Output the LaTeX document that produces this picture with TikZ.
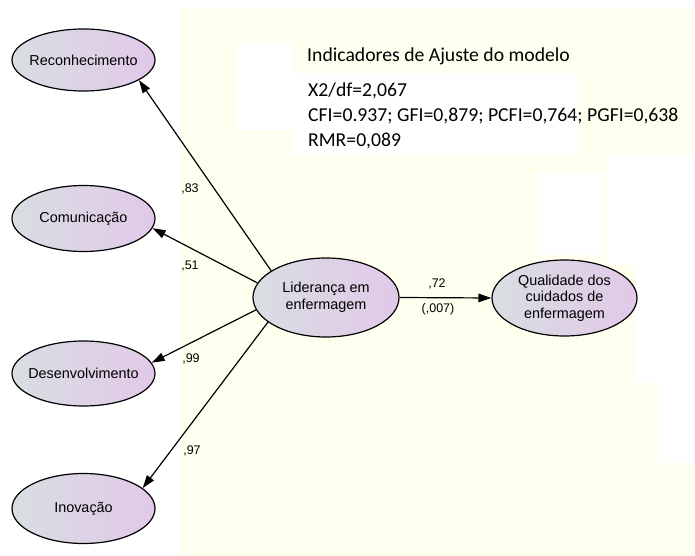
\documentclass[tikz,border=0pt]{standalone}
\usepackage{fontspec}
\setmainfont{Liberation Sans}
\newfontfamily\calfont{Carlito}
\usetikzlibrary{arrows.meta,shapes.geometric}
\definecolor{bgyellow}{HTML}{FFFFF0}
\definecolor{elleft}{HTML}{D8DEE2}
\definecolor{elright}{HTML}{E2C8E8}
\tikzset{
  latent/.style={ellipse, draw=black, line width=1.2pt, inner xsep=-30pt, inner ysep=0pt,
    left color=elleft, right color=elright, align=center,
    font=\fontsize{14.4}{16.5}\selectfont},
  path/.style={line width=1.2pt, -{Triangle[length=13pt,width=8.5pt]}},
  coef/.style={font=\fontsize{12.5}{14}\selectfont, inner sep=0pt},
  info/.style={font=\calfont\fontsize{19.7}{22}\selectfont, anchor=base west, inner sep=0pt}
}
\begin{document}
\begin{tikzpicture}[x=1pt,y=-1pt]
\useasboundingbox (0,0) rectangle (695,556);
\fill[white] (0,0) rectangle (695,556);
% background
\fill[bgyellow] (180,8) -- (693,8) -- (693,155) -- (608,155) -- (608,265) -- (635,265)
  -- (635,383) -- (658,383) -- (658,463) -- (695,463) -- (695,556) -- (180,556) -- cycle;
\fill[white] (237,43) rectangle (293,130);
\fill[white] (293,73) rectangle (578,155);
\fill[white] (537,173) rectangle (602,255);
% text block
\node[info] (t1) at (307,62) {Indicadores de Ajuste do modelo};
\node[info] (t2) at (308,97) {X2/df=2,067};
\node[info] (t3) at (308,122) {CFI=0.937; GFI=0,879; PCFI=0,764; PGFI=0,638};
\node[info] (t4) at (308,147) {RMR=0,089};
% nodes
\node[latent, minimum width=143pt, minimum height=62pt] (rec) at (83.5,60) {Reconhecimento};
\node[latent, minimum width=143pt, minimum height=66pt] (com) at (83.5,218.5) {Comunicação};
\node[latent, minimum width=143pt, minimum height=65pt] (des) at (83.5,373.5) {Desenvolvimento};
\node[latent, minimum width=143pt, minimum height=70pt] (ino) at (83.5,508.5) {Inovação};
\node[latent, minimum width=146pt, minimum height=79pt] (lid) at (326,297.5) {Liderança em\\enfermagem};
\node[latent, minimum width=145pt, minimum height=76pt] (qual) at (564.5,298) {Qualidade dos\\cuidados de\\enfermagem};
% paths
\draw[path] (lid.154.6) -- (rec.-20);
\draw[path] (lid.168.5) -- (com.-8.7);
\draw[path] (lid.190) -- (des.9.3);
\draw[path] (lid.203.7) -- (ino.19.9);
\draw[path] (lid.east) -- (qual.west);
% coefficients
\node[coef] (c1) at (190,189) {,83};
\node[coef] (c2) at (190,266) {,51};
\node[coef] (c3) at (191,359) {,99};
\node[coef] (c4) at (192,451) {,97};
\node[coef] (c5) at (437,284) {,72};
\node[coef] (c6) at (438,309) {(,007)};
\end{tikzpicture}
\end{document}
